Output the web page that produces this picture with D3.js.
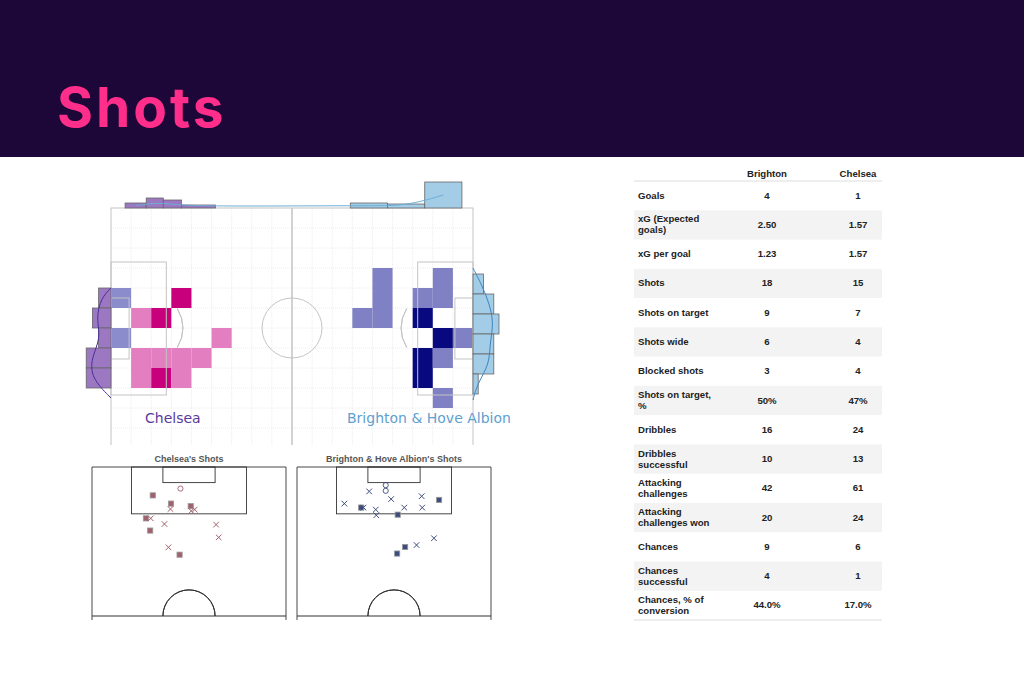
<!DOCTYPE html>
<html><head><meta charset="utf-8">
<script src="https://cdn.jsdelivr.net/npm/d3@7"></script>
<style>body{margin:0;background:#fff}svg{display:block}</style></head>
<body><svg id="c" width="1024" height="683"></svg>
<script>
// ---- data ----
const title = "Shots";
const teams = ["Chelsea", "Brighton & Hove Albion"];
// heatmap cells [col,row,level] on an 18x12 grid (level 0 = side tone,1 = light,2 = dark)
const chelseaCells = [[0,4,0],[3,4,2],[1,5,1],[2,5,2],[0,6,0],[5,6,1],[1,7,1],[2,7,1],[3,7,1],[4,7,1],[1,8,1],[2,8,2],[3,8,1]];
const brightonCells = [[13,3,1],[16,3,1],[13,4,1],[15,4,1],[16,4,1],[12,5,1],[13,5,1],[15,5,2],[16,6,2],[17,6,1],[15,7,2],[16,7,1],[15,8,2],[16,9,1]];
// side histograms: [row, count]
const chelseaRowHist = [[4,2],[5,3],[6,2],[7,4],[8,4]];
const brightonRowHist = [[3,2],[4,4],[5,5],[6,4],[7,4],[8,1]];
// top histograms: [colStart, colEnd, count]
const chelseaColHist = [[0.7,1.75,1],[1.75,2.6,2],[2.6,3.5,1.6],[3.5,5.2,0.6]];
const brightonColHist = [[11.9,13.75,1],[13.75,15.6,0.8],[15.6,17.45,5.2]];
// shots in metres: [x across width (0-68), y from goal line (0-52.5)]
const chelseaGoals = [[31.0,7.6]];
const chelseaSaved = [[21.3,10.0],[27.7,12.9],[34.6,13.8],[18.9,18.1],[20.4,22.4],[30.7,30.9]];
const chelseaMissed = [[27.5,14.8],[34.8,15.5],[36.0,15.0],[20.6,18.1],[25.4,20.1],[43.5,20.3],[44.4,24.8],[26.8,28.3]];
const brightonGoals = [[31.1,6.4],[31.1,8.4]];
const brightonSaved = [[22.5,14.3],[35.3,16.8],[49.8,11.6],[37.9,28.2],[35.1,30.5]];
const brightonMissed = [[16.6,12.9],[25.3,8.6],[33.0,11.3],[43.7,10.3],[43.9,14.3],[37.6,14.3],[27.6,15.0],[27.8,17.0],[23.3,14.3],[41.9,27.5],[48.0,25.1]];
// table
const tableCols = ["Brighton","Chelsea"];
const tableLabels = [["Goals"],["xG (Expected","goals)"],["xG per goal"],["Shots"],["Shots on target"],["Shots wide"],["Blocked shots"],["Shots on target,","%"],["Dribbles"],["Dribbles","successful"],["Attacking","challenges"],["Attacking","challenges won"],["Chances"],["Chances","successful"],["Chances, % of","conversion"]];
const brightonVals = ["4","2.50","1.23","18","9","6","3","50%","16","10","42","20","9","4","44.0%"];
const chelseaVals = ["1","1.57","1.57","15","7","4","4","47%","24","13","61","24","6","1","17.0%"];

// ---- drawing ----
const svg = d3.select("#c");
svg.append("rect").attr("width",1024).attr("height",157).attr("fill","#1d0638");
svg.append("text").attr("x",57).attr("y",127).text(title)
  .attr("font-family","Inter, 'Noto Sans', sans-serif").attr("font-weight",700)
  .attr("font-size",55).attr("fill","#ff2e8a").attr("letter-spacing",3);

// main pitch
const X = d3.scaleLinear().domain([0,18]).range([111,473]);
const Y = d3.scaleLinear().domain([0,12]).range([208,448]);
const M = svg.append("g");
M.append("clipPath").attr("id","pc").append("rect").attr("x",0).attr("y",0).attr("width",1024).attr("height",445);
const P = M.append("g").attr("clip-path","url(#pc)");
P.selectAll(".gv").data(d3.range(1,18)).join("line").attr("x1",d=>X(d)).attr("x2",d=>X(d)).attr("y1",Y(0)).attr("y2",Y(12)).attr("stroke","#ececec").attr("stroke-dasharray","1,1");
P.selectAll(".gh").data(d3.range(1,12)).join("line").attr("y1",d=>Y(d)).attr("y2",d=>Y(d)).attr("x1",X(0)).attr("x2",X(18)).attr("stroke","#ececec").attr("stroke-dasharray","1,1");
const cellCol = {c:["#8a8ccc","#e37fc1","#c8007c"], b:["#8080c4","#8080c4","#08087f"]};
P.selectAll(".cc").data(chelseaCells).join("rect").attr("x",d=>X(d[0])).attr("y",d=>Y(d[1])).attr("width",X(1)-X(0)).attr("height",Y(1)-Y(0)).attr("fill",d=>cellCol.c[d[2]]);
P.selectAll(".bc").data(brightonCells).join("rect").attr("x",d=>X(d[0])).attr("y",d=>Y(d[1])).attr("width",X(1)-X(0)).attr("height",Y(1)-Y(0)).attr("fill",d=>cellCol.b[d[2]]);
const lc = "#c4c4c4";
P.append("rect").attr("x",X(0)).attr("y",Y(0)).attr("width",X(18)-X(0)).attr("height",Y(12)-Y(0)).attr("fill","none").attr("stroke",lc);
P.append("line").attr("x1",X(9)).attr("x2",X(9)).attr("y1",Y(0)).attr("y2",Y(12)).attr("stroke",lc).attr("stroke-width",1.5);
P.append("circle").attr("cx",X(9)).attr("cy",Y(6)).attr("r",30).attr("fill","none").attr("stroke",lc);
[[0,2.75],[18,-2.75]].forEach(([g,dir])=>{
  const x0=X(g);
  P.append("rect").attr("x",Math.min(x0,X(g+dir))).attr("y",Y(2.7)).attr("width",Math.abs(X(g+dir)-x0)).attr("height",Y(9.35)-Y(2.7)).attr("fill","none").attr("stroke",lc);
  const d6 = dir>0?0.9:-0.9;
  P.append("rect").attr("x",Math.min(x0,X(g+d6))).attr("y",Y(4.5)).attr("width",Math.abs(X(g+d6)-x0)).attr("height",Y(7.55)-Y(4.5)).attr("fill","none").attr("stroke",lc);
  const cx = X(g+dir*0.65), xe = X(g+dir);
  const r = 36, dx = Math.abs(xe-cx), a = Math.acos(dx/r);
  const arc = d3.arc().innerRadius(r).outerRadius(r);
  const s = dir>0 ? Math.PI/2 : -Math.PI/2;
  P.append("path").attr("transform",`translate(${cx},${Y(6)})`).attr("d",arc({startAngle:s-(Math.PI/2-a),endAngle:s+(Math.PI/2-a)})).attr("fill","none").attr("stroke",lc);
});
// side histograms
const wC = d3.scaleLinear().domain([0,1]).range([0,6.2]);
const wB = d3.scaleLinear().domain([0,1]).range([0,5.2]);
M.selectAll(".lh").data(chelseaRowHist).join("rect").attr("x",d=>X(0)-wC(d[1])).attr("y",d=>Y(d[0])).attr("width",d=>wC(d[1])).attr("height",Y(1)-Y(0)).attr("fill","#9c78c2").attr("stroke","#666").attr("stroke-width",0.8);
M.selectAll(".rh").data(brightonRowHist).join("rect").attr("x",X(18)).attr("y",d=>Y(d[0])+6).attr("width",d=>wB(d[1])).attr("height",Y(1)-Y(0)).attr("fill","#a3cce6").attr("stroke","#666").attr("stroke-width",0.8);
const hT = d3.scaleLinear().domain([0,1]).range([0,5]);
M.selectAll(".th").data(chelseaColHist).join("rect").attr("x",d=>X(d[0])).attr("width",d=>X(d[1])-X(d[0])).attr("height",d=>hT(d[2])).attr("fill","#9c78c2").attr("stroke","#666").attr("stroke-width",0.8)
  .attr("y",d=>Y(0)-hT(d[2]));
M.selectAll(".bh").data(brightonColHist).join("rect").attr("x",d=>X(d[0])).attr("y",d=>Y(0)-hT(d[2])).attr("width",d=>X(d[1])-X(d[0])).attr("height",d=>hT(d[2])).attr("fill","#a3cce6").attr("stroke","#666").attr("stroke-width",0.8);
const topPts = chelseaColHist.concat(brightonColHist).map(d=>[X((d[0]+d[1])/2), Y(0)-hT(d[2])*0.5]);
M.append("path").attr("d",d3.line().curve(d3.curveBasis)(topPts)).attr("fill","none").attr("stroke","#6baed6").attr("stroke-width",1);
M.append("path").attr("d",d3.line().curve(d3.curveBasis)([[X(0),Y(4)]].concat(chelseaRowHist.map(d=>[X(0)-wC(d[1])*0.8,Y(d[0]+0.5)])).concat([[X(0),Y(9.5)]]))).attr("fill","none").attr("stroke","#4a2f9a").attr("stroke-width",1);
M.append("path").attr("d",d3.line().curve(d3.curveBasis)([[X(18),Y(3)]].concat(brightonRowHist.map(d=>[X(18)+wB(d[1])*0.8,Y(d[0]+0.5)+6])).concat([[X(18),Y(9.6)]]))).attr("fill","none").attr("stroke","#3f86c0").attr("stroke-width",1);
M.append("text").attr("x",145).attr("y",423).text(teams[0]).attr("font-family","DejaVu Sans").attr("font-size",14).attr("fill","#5a3a9e");
M.append("text").attr("x",347).attr("y",423).text(teams[1]).attr("font-family","DejaVu Sans").attr("font-size",14).attr("fill","#5e9fd0");

// shot maps
function shotMap(x0, name, goals, saved, missed, col){
  const sx = d3.scaleLinear().domain([0,68]).range([x0, x0+194]);
  const sy = d3.scaleLinear().domain([0,52.5]).range([467, 616]);
  const g = svg.append("g");
  g.append("text").attr("x",sx(34)).attr("y",462).attr("text-anchor","middle").text(name).attr("font-family","Liberation Sans, Arial").attr("font-weight",700).attr("font-size",9).attr("fill","#555");
  const k="#333";
  g.append("path").attr("d",`M${sx(0)},${sy(52.5)+4}V${sy(0)}H${sx(68)}V${sy(52.5)+4}`).attr("fill","none").attr("stroke",k).attr("stroke-width",0.9);
  g.append("line").attr("x1",sx(0)).attr("x2",sx(68)).attr("y1",sy(52.5)).attr("y2",sy(52.5)).attr("stroke",k).attr("stroke-width",1.2);
  g.append("rect").attr("x",sx(13.85)).attr("y",sy(0)).attr("width",sx(54.15)-sx(13.85)).attr("height",sy(16.5)-sy(0)).attr("fill","none").attr("stroke",k).attr("stroke-width",0.9);
  g.append("rect").attr("x",sx(24.85)).attr("y",sy(0)).attr("width",sx(43.15)-sx(24.85)).attr("height",sy(5.5)-sy(0)).attr("fill","none").attr("stroke",k).attr("stroke-width",0.9);
  const r = sx(9.15)-sx(0);
  g.append("path").attr("transform",`translate(${sx(34)},${sy(52.5)})`).attr("d",d3.arc().innerRadius(r).outerRadius(r)({startAngle:-Math.PI/2,endAngle:Math.PI/2})).attr("fill","none").attr("stroke",k).attr("stroke-width",1);
  g.selectAll(".go").data(goals).join("circle").attr("cx",d=>sx(d[0])).attr("cy",d=>sy(d[1])).attr("r",2.6).attr("fill","none").attr("stroke",col).attr("stroke-width",0.9);
  g.selectAll(".sv").data(saved).join("rect").attr("x",d=>sx(d[0])-2.6).attr("y",d=>sy(d[1])-2.6).attr("width",5.2).attr("height",5.2).attr("fill",col).attr("stroke","#999").attr("stroke-width",0.8);
  g.selectAll(".ms").data(missed).join("path").attr("d",d=>{const x=sx(d[0]),y=sy(d[1]),s=2.8;return `M${x-s},${y-s}L${x+s},${y+s}M${x-s},${y+s}L${x+s},${y-s}`}).attr("stroke",col).attr("stroke-width",1);
}
shotMap(92, "Chelsea's Shots", chelseaGoals, chelseaSaved, chelseaMissed, "#a0606c");
shotMap(297, "Brighton & Hove Albion's Shots", brightonGoals, brightonSaved, brightonMissed, "#3d4d7e");

// table
const T = svg.append("g").attr("font-family","Liberation Sans, Arial").attr("font-weight",700).attr("font-size",9.6).attr("fill","#222");
const ty = d3.scaleBand().domain(d3.range(tableLabels.length)).range([181,620]);
const tx = d3.scalePoint().domain(tableCols).range([767,858]);
T.selectAll(".hd").data(tableCols).join("text").attr("x",d=>tx(d)).attr("y",177).attr("text-anchor","middle").text(d=>d);
T.append("line").attr("x1",634).attr("x2",882).attr("y1",181).attr("y2",181).attr("stroke","#ddd");
T.selectAll(".bg").data(d3.range(tableLabels.length).filter(i=>i%2==1)).join("rect").attr("x",634).attr("y",i=>ty(i)).attr("width",248).attr("height",ty.bandwidth()).attr("fill","#f3f3f3");
T.append("line").attr("x1",634).attr("x2",882).attr("y1",620).attr("y2",620).attr("stroke","#ddd");
tableLabels.forEach((lab,i)=>{
  const cy = ty(i)+ty.bandwidth()/2;
  const t = T.append("text").attr("x",638).attr("y",cy+3 - (lab.length-1)*5.5);
  lab.forEach((l,j)=>t.append("tspan").attr("x",638).attr("dy",j?11:0).text(l));
  T.append("text").attr("x",tx("Brighton")).attr("y",cy+3).attr("text-anchor","middle").text(brightonVals[i]);
  T.append("text").attr("x",tx("Chelsea")).attr("y",cy+3).attr("text-anchor","middle").text(chelseaVals[i]);
});
</script></body></html>
